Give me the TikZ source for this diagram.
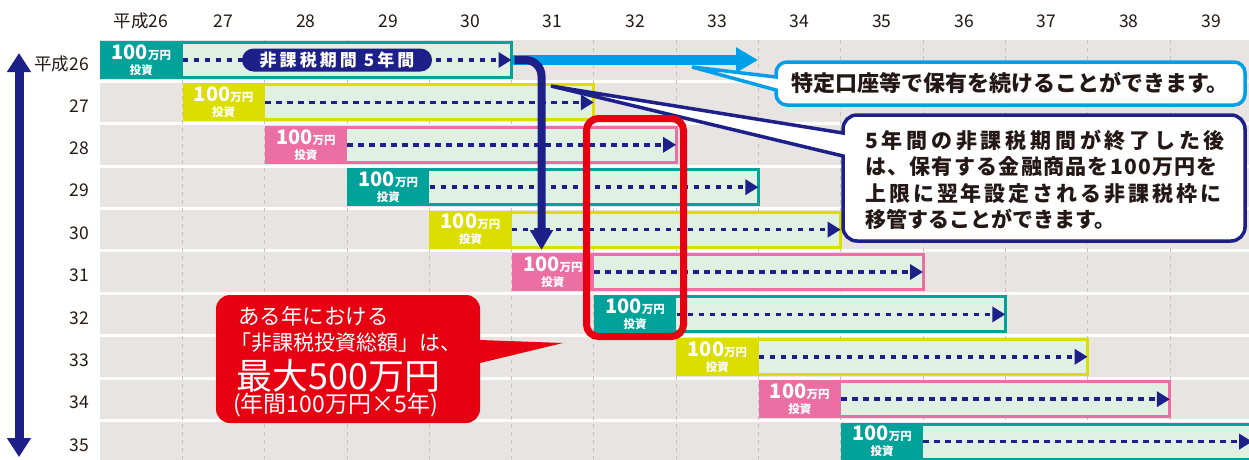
\documentclass[tikz,border=0pt]{standalone}
\usepackage{fontspec}
\setmainfont{Noto Sans CJK JP}
\newfontfamily\pillfont[LetterSpace=18]{Noto Sans CJK JP}
\usepackage{tikz}
\usetikzlibrary{positioning, arrows.meta}

\definecolor{band}{HTML}{E8E4E1}
\definecolor{mint}{HTML}{E0F0E3}
\definecolor{tealbar}{HTML}{00A29A}
\definecolor{limebar}{HTML}{DCDD00}
\definecolor{pinkbar}{HTML}{EC6FA4}
\definecolor{navy}{HTML}{1D2088}
\definecolor{skyblue}{HTML}{00A0E9}
\definecolor{alert}{HTML}{E60012}
\definecolor{gridline}{HTML}{C8C1BD}
\definecolor{ink}{HTML}{231815}

\newcommand{\spread}[2]{{\addfontfeature{LetterSpace=#1}#2}}

\begin{document}
\begin{tikzpicture}[
    x=1pt, y=-1pt,
    every node/.style={inner sep=0pt},
    yearlbl/.style={font=\fontsize{17.5}{17.5}\selectfont, text=ink},
    bar/.style={rectangle, draw, line width=3pt, fill=mint, minimum width=408.5pt, minimum height=35pt, anchor=west},
    amount/.style={rectangle, minimum width=82.3pt, minimum height=38pt, anchor=west, text=white, align=center, font=\fontsize{11.5}{15}\selectfont\bfseries},
    flow/.style={navy, line width=3.5pt, dash pattern=on 5.5pt off 5.5pt, -{Triangle[length=13pt, width=15pt]}},
    pill/.style={rectangle, fill=navy, text=white, rounded corners=11.5pt, minimum width=190pt, minimum height=23pt, font=\pillfont\bfseries\fontsize{17}{17}\selectfont},
    note/.style={text=ink, font=\bfseries\fontsize{22}{22}\selectfont},
    redtxt/.style={text=white, anchor=base west}
]
    \useasboundingbox (0,0) rectangle (1249,459);

    \foreach \i in {0,...,9}
        \fill[band] (100,{40.3+42.4*\i}) rectangle (1249,{79.7+42.4*\i});
    \foreach \k in {1,...,13}
        \draw[gridline, line width=0.8pt, dash pattern=on 4pt off 4pt] ({100+82.3*\k},40) -- ({100+82.3*\k},459);

    \foreach \k/\yr in {0/平成26,1/27,2/28,3/29,4/30,5/31,6/32,7/33,8/34,9/35,10/36,11/37,12/38,13/39}
        \node[yearlbl] (yr\k) at ({141.2+82.3*\k},21) {\yr};
    \foreach \i/\yr in {0/平成26,1/27,2/28,3/29,4/30,5/31,6/32,7/33,8/34,9/35}
        \node[yearlbl, anchor=east] (row\i) at (89,{63.5+42.4*\i}) {\yr};

    \coordinate (axtop) at (19,53);
    \coordinate (axbot) at (19,457);
    \draw[navy, line width=9pt, {Triangle[length=19pt, width=23pt]}-{Triangle[length=19pt, width=23pt]}] (axtop) -- (axbot);

    \foreach \i/\col in {0/tealbar,1/limebar,2/pinkbar,3/tealbar,4/limebar,5/pinkbar,6/tealbar,7/limebar,8/pinkbar,9/tealbar}{
        \node[bar, draw=\col] (bar\i) at ({101.5+82.3*\i},{60+42.4*\i}) {};
        \node[amount, fill=\col] (amt\i) at ({100+82.3*\i},{60+42.4*\i}) {{\fontsize{20}{15}\selectfont 100}万円\\投資};
        \draw[flow] (amt\i.east) -- ([xshift=-1.5pt]bar\i.east);
    }
    \node[pill] (span) at (337,60) {非課税期間 5年間};

    \coordinate (keepend) at (758,60);
    \coordinate (moveend) at (541.5,250);
    \draw[skyblue, line width=10pt, -{Triangle[length=22pt, width=24pt]}] (bar0.east) -- (keepend);
    \draw[navy, line width=8pt, rounded corners=16pt, -{Triangle[length=20pt, width=22pt]}] ([xshift=1.5pt]bar0.east) -| (moveend);

    \coordinate (tipkeep) at (692,67);
    \draw[skyblue, line width=3.5pt, fill=white] (tipkeep) -- (776,77) -- (776,73) arc[start angle=180, end angle=90, radius=11pt]
        -- (1234,62) arc[start angle=90, end angle=0, radius=11pt] -- (1245,94) arc[start angle=0, end angle=-90, radius=11pt]
        -- (787,105) arc[start angle=-90, end angle=-180, radius=11pt] -- (776,90) -- cycle;
    \node[note] (keep) at (1010,83) {特定口座等で保有を続けることができます。};

    \coordinate (tipmove) at (551,86);
    \draw[navy, line width=3.5pt, fill=white] (tipmove) -- (843,133) -- (843,129) arc[start angle=180, end angle=90, radius=14pt]
        -- (1231,115) arc[start angle=90, end angle=0, radius=14pt] -- (1245,227) arc[start angle=0, end angle=-90, radius=14pt]
        -- (857,241) arc[start angle=-90, end angle=-180, radius=14pt] -- (843,156) -- cycle;
    \node[text=ink, align=left, anchor=north west, font=\bfseries\fontsize{21}{26.5}\selectfont] (move) at (865,129.5)
        {\spread{18}{5年間の非課税期間が終了した後}\\\spread{6}{は、保有する金融商品を100万円を}\\\spread{14}{上限に翌年設定される非課税枠に}\\移管することができます。};

    \node[rectangle, draw=alert, line width=7pt, rounded corners=12pt, minimum width=97pt, minimum height=218pt] (focus) at (635,227.5) {};

    \coordinate (tiptotal) at (563,343);
    \fill[alert] (tiptotal) -- (480,363) -- (480,409) arc[start angle=0, end angle=-90, radius=14pt]
        -- (230,423) arc[start angle=-90, end angle=-180, radius=14pt] -- (216,309) arc[start angle=180, end angle=90, radius=14pt]
        -- (466,295) arc[start angle=90, end angle=0, radius=14pt] -- (480,340) -- cycle;
    \node[redtxt, font=\fontsize{21.5}{21.5}\selectfont] (total1) at (238,324) {ある年における};
    \node[redtxt, font=\fontsize{21}{21}\selectfont] (total2) at (230,350) {「非課税投資総額」は、};
    \node[redtxt, font=\fontsize{36}{36}\selectfont] (total3) at (236,389) {最大500万円};
    \node[redtxt, font=\fontsize{23}{23}\selectfont] (total4) at (233,412) {(年間100万円×5年)};
\end{tikzpicture}
\end{document}
